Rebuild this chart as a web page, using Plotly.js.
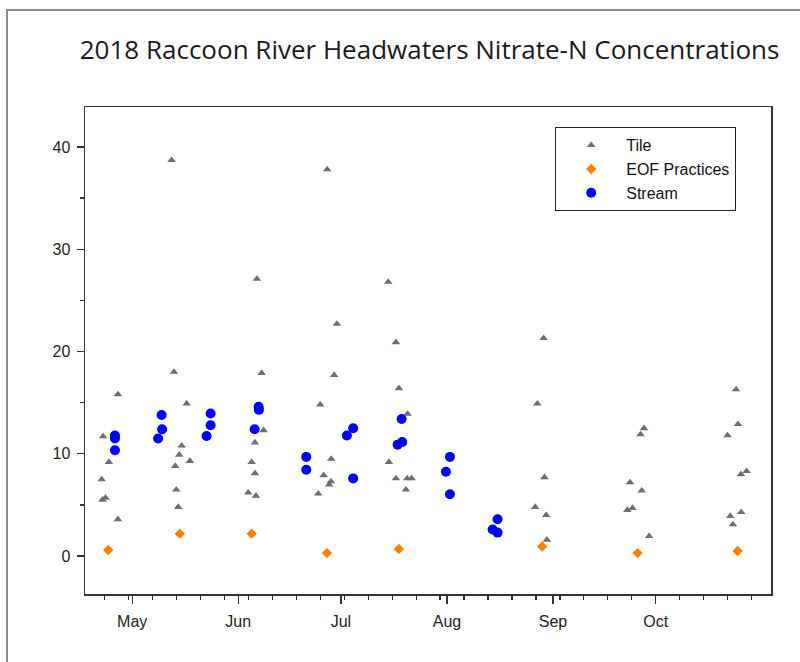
<!DOCTYPE html>
<html>
<head>
<meta charset="utf-8">
<script src="https://cdn.plot.ly/plotly-3.0.1.min.js"></script>
<style>
  html, body { margin: 0; padding: 0; background: #ffffff; }
  #wrap { position: relative; width: 800px; height: 662px; overflow: hidden; }
  #chart { position: absolute; left: 0; top: 0; width: 800px; height: 662px; }
  #frame { position: absolute; left: 6px; top: 9px; width: 820px; height: 700px;
           border-top: 2px solid #8c8c8c; border-left: 2px solid #8c8c8c; pointer-events: none; }
</style>
</head>
<body>
<div id="wrap">
  <div id="chart"></div>
  <div id="frame"></div>
</div>
<script>
// ---- Data ----
const tileDates = [
  "2018-04-22 02:00","2018-04-22 08:00","2018-04-23 05:00","2018-04-22 12:00","2018-04-24 05:00",
  "2018-04-26 20:00","2018-04-26 20:00",
  "2018-05-12 12:00","2018-05-13 05:00","2018-05-13 14:00","2018-05-13 21:00","2018-05-14 11:00",
  "2018-05-14 18:00","2018-05-15 11:00","2018-05-16 22:00","2018-05-17 21:00",
  "2018-06-06 11:00","2018-06-07 20:00","2018-06-08 10:00","2018-06-05 21:00","2018-06-04 22:00",
  "2018-06-05 21:00","2018-06-03 22:00","2018-06-06 04:00",
  "2018-06-24 23:00","2018-06-24 09:00","2018-06-25 23:00","2018-06-27 14:00","2018-06-28 02:00",
  "2018-06-28 04:00","2018-06-27 00:00","2018-06-29 01:00","2018-06-29 20:00",
  "2018-07-14 20:00","2018-07-15 01:00","2018-07-17 02:00","2018-07-17 02:00","2018-07-17 23:00",
  "2018-07-20 00:00","2018-07-20 09:00","2018-07-20 12:00","2018-07-21 16:00",
  "2018-08-26 19:00","2018-08-27 10:00","2018-08-29 06:00","2018-08-29 12:00","2018-08-30 00:00",
  "2018-08-30 05:00",
  "2018-09-22 17:00","2018-09-24 05:00","2018-09-23 12:00","2018-09-26 22:00","2018-09-26 14:00",
  "2018-09-27 14:00","2018-09-29 02:00",
  "2018-10-22 00:00","2018-10-22 19:00","2018-10-23 14:00","2018-10-24 12:00","2018-10-25 01:00",
  "2018-10-25 22:00","2018-10-26 00:00","2018-10-27 14:00"
];
const tileValues = [
  7.5, 5.5, 5.7, 11.7, 9.2,
  15.8, 3.6,
  38.7, 18.0, 8.8, 6.5, 4.8,
  9.9, 10.8, 14.9, 9.3,
  27.1, 17.9, 12.3, 11.1, 9.2,
  8.1, 6.2, 5.9,
  14.8, 6.1, 7.9, 7.0, 7.3,
  9.5, 37.8, 17.7, 22.7,
  26.8, 9.2, 20.9, 7.6, 16.4,
  6.5, 7.6, 13.9, 7.6,
  4.8, 14.9, 21.3, 7.7, 4.0,
  1.6,
  4.5, 4.7, 7.2, 6.4, 11.9,
  12.5, 1.95,
  11.8, 3.9, 3.1, 16.3, 12.9,
  8.0, 4.3, 8.3
];

const eofDates = [
  "2018-04-24 00:00","2018-05-14 22:00","2018-06-04 22:00","2018-06-26 22:00",
  "2018-07-17 23:00","2018-08-28 20:00","2018-09-25 17:00","2018-10-24 23:00"
];
const eofValues = [0.6, 2.2, 2.2, 0.3, 0.7, 0.95, 0.3, 0.5];

const streamDates = [
  "2018-04-25 23:00","2018-04-25 23:00","2018-04-25 23:00",
  "2018-05-08 14:00","2018-05-09 18:00","2018-05-09 14:00",
  "2018-05-22 18:00","2018-05-23 22:00","2018-05-23 22:00",
  "2018-06-05 19:00","2018-06-06 23:00","2018-06-07 01:00",
  "2018-06-20 21:00","2018-06-20 21:00",
  "2018-07-02 18:00","2018-07-04 14:00","2018-07-04 14:00",
  "2018-07-17 14:00","2018-07-18 22:00","2018-07-18 18:00",
  "2018-07-31 17:00","2018-08-01 21:00","2018-08-01 21:00",
  "2018-08-14 08:00","2018-08-15 19:00","2018-08-15 19:00"
];
const streamValues = [
  11.8, 11.5, 10.35,
  11.5, 12.4, 13.8,
  11.75, 12.8, 13.95,
  12.4, 14.6, 14.3,
  9.7, 8.45,
  11.8, 12.5, 7.6,
  10.9, 11.15, 13.4,
  8.25, 9.7, 6.05,
  2.6, 2.3, 3.6
];

const monthTicks  = ["2018-05-01","2018-06-01","2018-07-01","2018-08-01","2018-09-01","2018-10-01"];
const monthLabels = ["May","Jun","Jul","Aug","Sep","Oct"];
const yTicks = [0, 10, 20, 30, 40];

const seriesNames = ["Tile", "EOF Practices", "Stream"];
const titleText = "2018 Raccoon River Headwaters Nitrate-N Concentrations";

// ---- Traces ----
const traces = [
  {
    type: "scatter", mode: "markers", name: seriesNames[0],
    x: tileDates, y: tileValues,
    marker: { symbol: "triangle-up", size: 7.5, color: "#6e6e6e", line: { width: 0 } }
  },
  {
    type: "scatter", mode: "markers", name: seriesNames[1],
    x: eofDates, y: eofValues,
    marker: { symbol: "diamond", size: 8, color: "#ff7f00", line: { width: 0 } }
  },
  {
    type: "scatter", mode: "markers", name: seriesNames[2],
    x: streamDates, y: streamValues,
    marker: { symbol: "circle", size: 10, color: "#0000ff", line: { width: 0 } }
  }
];

const axisFont = { family: "Liberation Sans, Arial, sans-serif", size: 16, color: "#222222" };

const layout = {
  width: 800, height: 662,
  margin: { l: 85, r: 29, t: 107, b: 68, pad: 0 },
  paper_bgcolor: "#ffffff", plot_bgcolor: "#ffffff",
  showlegend: true,
  title: {
    text: titleText,
    font: { family: "Open Sans, sans-serif", size: 26, color: "#1a1a1a" },
    xref: "container", yref: "container",
    x: 0.537, xanchor: "center", y: 0.925, yanchor: "middle"
  },
  xaxis: {
    type: "date",
    range: ["2018-04-17 05:00", "2018-11-03 17:00"],
    tickvals: monthTicks, ticktext: monthLabels,
    ticks: "outside", ticklen: 8, tickwidth: 1.3, tickcolor: "#333333",
    ticklabelstandoff: 4,
    tickfont: axisFont,
    showgrid: false, zeroline: false,
    showline: true, linecolor: "#333333", linewidth: 1.5, mirror: true,
    minor: {
      ticks: "outside", ticklen: 4, tickwidth: 1.3, tickcolor: "#333333",
      tick0: "2018-04-23", dtick: 604800000, showgrid: false
    },
    fixedrange: true
  },
  yaxis: {
    range: [-3.7, 43.9],
    tickvals: yTicks,
    ticks: "outside", ticklen: 7, tickwidth: 1.3, tickcolor: "#333333",
    ticklabelstandoff: 3,
    tickfont: axisFont,
    showgrid: false, zeroline: false,
    showline: true, linecolor: "#333333", linewidth: 1.5, mirror: true,
    minor: {
      ticks: "outside", ticklen: 4, tickwidth: 1.3, tickcolor: "#333333",
      tick0: 5, dtick: 10, showgrid: false
    },
    fixedrange: true
  },
  legend: {
    x: 0.685, y: 0.959, xanchor: "left", yanchor: "top",
    bgcolor: "#ffffff", bordercolor: "#222222", borderwidth: 1.3,
    font: { family: "Liberation Sans, Arial, sans-serif", size: 16, color: "#111111" },
    itemwidth: 60,
    entrywidth: 186, entrywidthmode: "pixels",
    tracegroupgap: 0
  }
};

Plotly.newPlot("chart", traces, layout, { displayModeBar: false, staticPlot: true });
</script>
</body>
</html>
